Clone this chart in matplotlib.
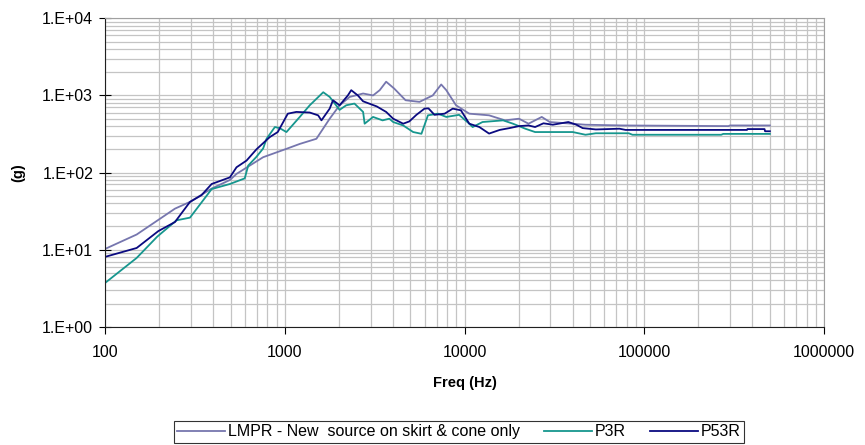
import numpy as np
import matplotlib
matplotlib.use("Agg")
import matplotlib.pyplot as plt
from matplotlib.ticker import FuncFormatter, LogLocator, NullFormatter

plt.rcParams['font.family'] = ['Liberation Sans', 'DejaVu Sans']

# LMPR - New source on skirt & cone only
lmpr_f = [100, 150, 245, 297, 392, 495, 539, 758, 1022, 1212, 1500, 1778, 2019,
          2297, 2728, 3100, 3375, 3665, 4060, 4700, 5620, 6660, 7420, 7920, 8970,
          10630, 13700, 16800, 20100, 22700, 26900, 29800, 47100, 75600, 294000,
          300000, 500000]
lmpr_g = [10.2, 15.7, 34, 41.6, 62, 80, 96, 158, 203, 235, 274, 499, 745,
          956, 1059, 1000, 1170, 1506, 1230, 866, 825, 1000, 1387, 1170, 745,
          580, 552, 475, 499, 430, 526, 452, 417, 408, 400,
          408, 408]

# P3R
p3r_f = [100, 150, 195, 250, 297, 344, 392, 495, 599, 626, 696, 758, 792, 881,
         936, 1022, 1212, 1377, 1637, 1778, 2019, 2198, 2442, 2728, 2782, 3100,
         3500, 3820, 4010, 4560, 5180, 5760, 6260, 7110, 7920, 9330, 10630,
         11100, 12600, 16400, 18600, 21800, 24700, 40000, 47100, 53800, 82000,
         86000, 268000, 275000, 500000]
p3r_g = [3.69, 7.8, 14.7, 24, 26, 40.8, 61, 71, 84, 123, 160, 205, 274, 389,
         377, 335, 526, 745, 1100, 956, 650, 745, 784, 611, 430, 526,
         475, 499, 452, 408, 335, 318, 552, 580, 526, 560, 430,
         389, 452, 475, 430, 370, 335, 335, 309, 323, 323,
         309, 309, 317, 317]

# P53R
p53r_f = [100, 150, 198, 245, 297, 344, 392, 495, 539, 613, 696, 825, 914, 1040,
          1160, 1377, 1533, 1600, 1778, 1855, 2019, 2244, 2343, 2550, 2728, 3250,
          3665, 4010, 4560, 4930, 5400, 5990, 6300, 6810, 7750, 8600, 9550, 10630,
          12100, 13700, 15700, 17800, 20100, 22700, 24700, 27500, 31000, 37800,
          41900, 45400, 53800, 72800, 78800, 373000, 375000, 467000, 470000, 500000]
p53r_g = [8.05, 10.5, 17.4, 22.8, 41.6, 50.8, 71, 86.5, 117, 143, 200, 288, 335, 580,
          611, 600, 552, 475, 674, 866, 745, 1000, 1170, 1000, 839, 720,
          611, 499, 430, 460, 560, 674, 680, 560, 580, 674, 641, 430,
          389, 320, 357, 377, 400, 408, 389, 435, 417, 452,
          417, 377, 362, 370, 357, 357, 366, 366, 343, 343]

fig = plt.figure(figsize=(8.65, 4.45), dpi=100)
ax = fig.add_axes([0.1214, 0.2658, 0.8312, 0.693])

ax.plot(lmpr_f, lmpr_g, color="#7676ae", lw=1.3,
        label="LMPR - New  source on skirt & cone only")
ax.plot(p3r_f, p3r_g, color="#16968e", lw=1.3, label="P3R")
ax.plot(p53r_f, p53r_g, color="#0a0a80", lw=1.3, label="P53R")

ax.set_xscale("log")
ax.set_yscale("log")
ax.set_xlim(100, 1e6)
ax.set_ylim(1, 1e4)

ax.xaxis.set_major_locator(LogLocator(base=10, numticks=10))
ax.xaxis.set_minor_locator(LogLocator(base=10, subs=np.arange(2, 10), numticks=20))
ax.yaxis.set_major_locator(LogLocator(base=10, numticks=10))
ax.yaxis.set_minor_locator(LogLocator(base=10, subs=np.arange(2, 10), numticks=20))
ax.xaxis.set_major_formatter(FuncFormatter(lambda v, p: "%d" % round(v)))
ax.yaxis.set_major_formatter(FuncFormatter(lambda v, p: "1.E+%02d" % round(np.log10(v))))
ax.xaxis.set_minor_formatter(NullFormatter())
ax.yaxis.set_minor_formatter(NullFormatter())

ax.grid(True, which="both", color="#c4c4c4", lw=0.9)
ax.set_axisbelow(True)
ax.tick_params(axis="x", which="major", direction="out", length=5, labelsize=11.5, pad=8)
ax.tick_params(axis="y", which="major", direction="inout", length=9, labelsize=11.5, pad=4)
ax.tick_params(which="minor", length=0)

for side in ["top", "right"]:
    ax.spines[side].set_color("#a0a0a0")
for side in ["left", "bottom"]:
    ax.spines[side].set_color("#202020")

ax.set_xlabel("Freq (Hz)", fontsize=10.5, fontweight="bold", labelpad=12)
ax.set_ylabel("(g)", fontsize=10.5, fontweight="bold", labelpad=12)

leg = fig.legend(loc="center", bbox_to_anchor=(0.5306, 0.0295), ncol=3,
                 fontsize=11.5, frameon=True, fancybox=False, edgecolor="black",
                 handlelength=3.0, handletextpad=0.2, columnspacing=1.5,
                 borderpad=0.2, borderaxespad=0)
leg.get_frame().set_linewidth(0.8)

fig.savefig("out.png", dpi=100)
